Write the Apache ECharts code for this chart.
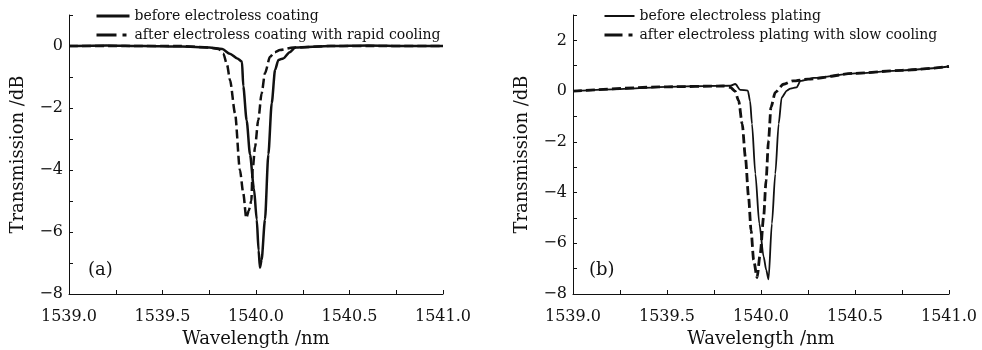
<!DOCTYPE html>
<html>
<head>
<meta charset="utf-8">
<script src="https://cdn.jsdelivr.net/npm/echarts@6/dist/echarts.min.js"></script>
<style>
html,body{margin:0;padding:0;background:#ffffff;}
#chart{width:982px;height:350px;}
</style>
</head>
<body>
<div id="chart"></div>
<script>
// ---- Data ----
// Panel (a)
const wlBeforeA = [1539.0, 1539.2, 1539.4, 1539.6, 1539.75, 1539.82, 1539.86, 1539.9, 1539.925, 1539.932, 1539.95, 1539.968, 1539.989, 1540.004, 1540.014, 1540.021, 1540.03, 1540.048, 1540.066, 1540.084, 1540.102, 1540.12, 1540.146, 1540.18, 1540.21, 1540.4, 1540.6, 1540.8, 1541.0];
const tBeforeA  = [0.0, 0.02, 0.0, -0.02, -0.05, -0.1, -0.25, -0.4, -0.5, -1.3, -2.4, -3.5, -4.6, -5.6, -6.6, -7.15, -6.9, -5.6, -3.5, -1.85, -0.77, -0.45, -0.4, -0.2, -0.05, 0.0, 0.02, 0.0, 0.0];
const wlAfterA  = [1539.0, 1539.3, 1539.6, 1539.75, 1539.8, 1539.825, 1539.845, 1539.861, 1539.888, 1539.914, 1539.932, 1539.948, 1539.962, 1539.975, 1539.982, 1539.995, 1540.012, 1540.03, 1540.048, 1540.075, 1540.1, 1540.128, 1540.2, 1540.4, 1540.7, 1541.0];
const tAfterA   = [0.0, 0.0, 0.0, -0.05, -0.1, -0.24, -0.6, -1.1, -2.17, -4.0, -4.75, -5.55, -5.3, -5.0, -4.0, -3.25, -2.39, -1.53, -0.88, -0.35, -0.2, -0.13, -0.05, 0.0, 0.0, 0.0];
// Panel (b)
const wlBeforeB = [1539.0, 1539.25, 1539.5, 1539.7, 1539.837, 1539.863, 1539.89, 1539.93, 1539.942, 1539.952, 1539.97, 1539.991, 1540.014, 1540.028, 1540.04, 1540.058, 1540.076, 1540.094, 1540.11, 1540.138, 1540.156, 1540.17, 1540.19, 1540.21, 1540.28, 1540.5, 1540.75, 1541.0];
const tBeforeB  = [0.0, 0.08, 0.17, 0.2, 0.21, 0.28, 0.05, 0.02, -0.4, -1.29, -3.26, -5.22, -6.53, -7.06, -7.42, -5.22, -3.26, -1.29, -0.25, 0.02, 0.1, 0.12, 0.15, 0.4, 0.52, 0.7, 0.82, 0.97];
const wlAfterB  = [1539.0, 1539.5, 1539.8, 1539.837, 1539.862, 1539.881, 1539.9, 1539.917, 1539.934, 1539.947, 1539.961, 1539.979, 1539.996, 1540.014, 1540.027, 1540.04, 1540.053, 1540.076, 1540.12, 1540.17, 1540.25, 1540.5, 1540.75, 1541.0];
const tAfterB   = [0.0, 0.17, 0.2, 0.15, 0.0, -0.38, -1.29, -2.6, -4.18, -5.49, -6.66, -7.35, -6.4, -4.96, -3.52, -1.95, -0.64, -0.05, 0.27, 0.4, 0.47, 0.7, 0.82, 0.97];

const namesA = ['before electroless coating', 'after electroless coating with rapid cooling'];
const namesB = ['before electroless plating', 'after electroless plating with slow cooling'];
const panelLabels = ['(a)', '(b)'];
const xName = 'Wavelength /nm';
const yName = 'Transmission /dB';

// ---- Build ----
const zip = (xs, ys) => xs.map((x, i) => [x, ys[i]]);
const FONT = 'DejaVu Serif';
const INK = '#111';

function xAxis(gi) {
  return {
    type: 'value', gridIndex: gi, min: 1539.0, max: 1541.0, interval: 0.5,
    name: xName, nameLocation: 'middle', nameGap: 35,
    nameTextStyle: {fontFamily: FONT, fontSize: 18, color: INK},
    axisLine: {show: true, onZero: false, lineStyle: {color: INK, width: 1}},
    axisTick: {show: true, inside: true, length: 4, lineStyle: {color: INK}},
    minorTick: {show: true, splitNumber: 2, length: 4, lineStyle: {color: INK}},
    axisLabel: {fontFamily: FONT, fontSize: 16, color: INK, margin: 15, formatter: v => v.toFixed(1)},
    splitLine: {show: false}
  };
}
function yAxis(gi, max) {
  return {
    type: 'value', gridIndex: gi, min: -8, max: max, interval: 2,
    name: yName, nameLocation: 'middle', nameGap: 42,
    nameTextStyle: {fontFamily: FONT, fontSize: 18, color: INK},
    axisLine: {show: true, onZero: false, lineStyle: {color: INK, width: 1}},
    axisTick: {show: true, inside: true, length: 4, lineStyle: {color: INK}},
    minorTick: {show: true, splitNumber: 2, length: 4, lineStyle: {color: INK}},
    axisLabel: {fontFamily: FONT, fontSize: 16, color: INK, margin: 6, showMaxLabel: false,
      formatter: v => String(v).replace('-', '\u2212')},
    splitLine: {show: false}
  };
}
function line(name, gi, data, width, dashed) {
  return {
    name: name, type: 'line', xAxisIndex: gi, yAxisIndex: gi, data: data,
    showSymbol: false, symbol: 'none', smooth: 0.25, smoothMonotone: 'x',
    lineStyle: {color: INK, width: width, type: dashed ? [9, 4] : 'solid'},
    itemStyle: {color: INK}, z: dashed ? 3 : 2
  };
}
const legendItemStyle = {color: 'rgba(0,0,0,0)', borderWidth: 0, opacity: 0};

const option = {
  backgroundColor: '#ffffff',
  animation: false,
  grid: [
    {left: 69, top: 15, width: 374, height: 279, outerBoundsMode: 'none', containLabel: false},
    {left: 573, top: 15, width: 376, height: 279, outerBoundsMode: 'none', containLabel: false}
  ],
  xAxis: [xAxis(0), xAxis(1)],
  yAxis: [yAxis(0, 1), yAxis(1, 3)],
  legend: [
    {left: 90, top: 4, orient: 'vertical', itemWidth: 33, itemHeight: 14, itemGap: 5,
     itemStyle: legendItemStyle,
     textStyle: {fontFamily: FONT, fontSize: 14, color: INK},
     data: [{name: namesA[0], lineStyle: {width: 3}}, {name: namesA[1], lineStyle: {width: 3, type: [20, 6, 4, 10]}}]},
    {left: 598, top: 4, orient: 'vertical', itemWidth: 30, itemHeight: 14, itemGap: 5,
     itemStyle: legendItemStyle,
     textStyle: {fontFamily: FONT, fontSize: 14, color: INK},
     data: [{name: namesB[0], lineStyle: {width: 2}}, {name: namesB[1], lineStyle: {width: 3, type: [18, 6, 4, 10]}}]}
  ],
  graphic: [
    {type: 'text', left: 88, top: 261, style: {text: panelLabels[0], font: '18px "DejaVu Serif"', fill: INK}},
    {type: 'text', left: 589, top: 261, style: {text: panelLabels[1], font: '18px "DejaVu Serif"', fill: INK}}
  ],
  series: [
    line(namesA[0], 0, zip(wlBeforeA, tBeforeA), 2.5, false),
    line(namesA[1], 0, zip(wlAfterA, tAfterA), 2.5, true),
    line(namesB[0], 1, zip(wlBeforeB, tBeforeB), 1.8, false),
    line(namesB[1], 1, zip(wlAfterB, tAfterB), 2.8, true)
  ]
};

const chart = echarts.init(document.getElementById('chart'), null, {renderer: 'canvas'});
chart.setOption(option);
</script>
</body>
</html>
